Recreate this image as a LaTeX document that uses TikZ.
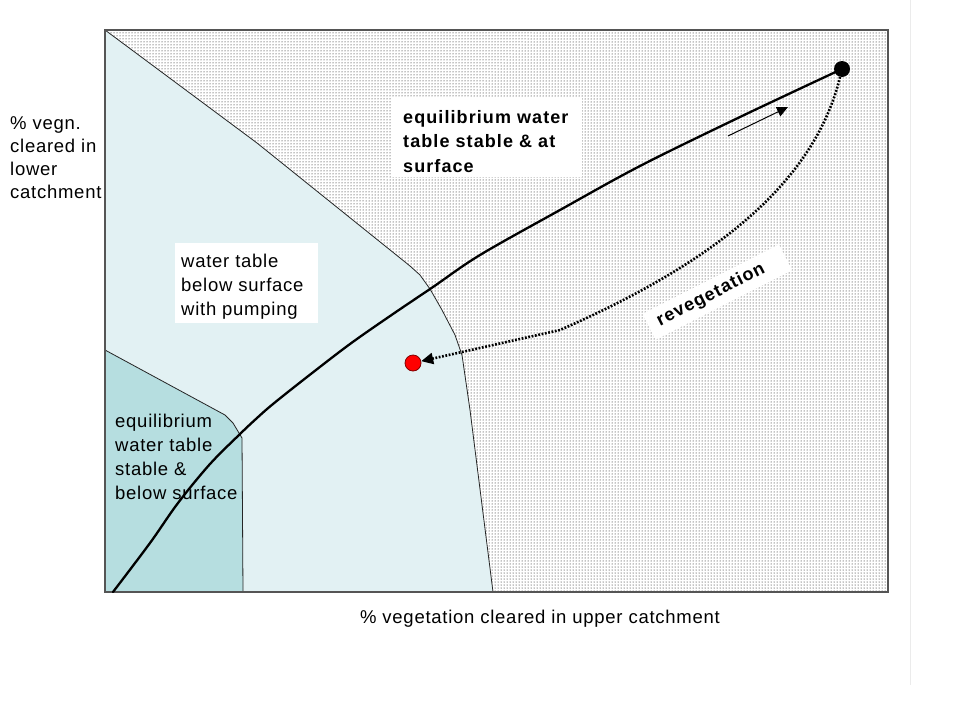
\documentclass[tikz,border=0pt]{standalone}
\usepackage{fontspec}
\setmainfont{Liberation Sans}
\newfontfamily\labfont[LetterSpace=4]{Liberation Sans}
\newfontfamily\boldlabfont[LetterSpace=6]{Liberation Sans}
\usetikzlibrary{arrows.meta,patterns}
\definecolor{tealfill}{RGB}{182,222,224}
\definecolor{palefill}{RGB}{226,241,243}
\definecolor{framecol}{RGB}{85,85,85}
\tikzset{
  lab/.style={font=\labfont\fontsize{18.5}{24}\selectfont, align=left, inner sep=0pt, text=black},
  boldlab/.style={font=\boldlabfont\bfseries\fontsize{18}{24.5}\selectfont, align=left, inner sep=0pt, text=black},
  boundary/.style={draw=black!85, line width=0.8pt, line join=round},
  mainline/.style={line width=2.3pt, black, line cap=round, line join=round},
  revegline/.style={line width=2.6pt, black, dash pattern=on 1.8pt off 1.6pt, -{Triangle[length=12pt,width=11pt]}},
  smallarrow/.style={line width=1pt, black, -{Triangle[length=11pt,width=10pt]}},
  dotmark/.style={circle, inner sep=0pt, minimum size=#1}
}
\begin{document}
\begin{tikzpicture}[x=1pt,y=-1pt]
\useasboundingbox (0,0) rectangle (960,720);
\fill[white] (0,0) rectangle (960,720);
% faint page edge
\draw[black!8, line width=1pt] (910,0) -- (910,685);
% dotted background region
\fill[pattern=dots] (105,30) rectangle (888,592);
% pale region (water table below surface with pumping)
\fill[palefill] (105,30) -- (257,143) -- (410,266) -- (420,275) -- (430,289) -- (442,310) -- (455,335) -- (462,355) -- (470,410) -- (493,592) -- (105,592) -- cycle;
\draw[boundary] (105,30) -- (257,143) -- (410,266) -- (420,275) -- (430,289) -- (442,310) -- (455,335) -- (462,355) -- (470,410) -- (493,592);
% teal region
\filldraw[fill=tealfill, boundary] (105,350) -- (225,415) -- (233,423) -- (242,438) -- (243,592) -- (105,592) -- cycle;
% frame
\draw[framecol, line width=1.5pt] (105,30) rectangle (888,592);
% markers
\node[dotmark=16pt, fill=black] (blackdot) at (842,69) {};
\node[dotmark=16pt, fill=red, draw=red!50!black, line width=0.8pt] (reddot) at (413,363) {};
% main curve
\coordinate (cbottom) at (113,592);
\draw[mainline] plot[smooth, tension=0.55] coordinates {(cbottom) (150,543) (178,503) (210,464) (240,434) (257,418) (273,404) (307,377) (350,344) (393,314) (433,287) (480,255) (560,210) (640,166) (740,117) (blackdot.center)};
% small direction arrow
\coordinate (sa1) at (728,136);
\coordinate (sa2) at (788,107);
\draw[smallarrow] (sa1) -- (sa2);
% revegetation path
\draw[revegline] (blackdot) .. controls (815,180) and (720,260) .. (560,330) -- (reddot);
% labels (base anchor = last line's baseline)
\fill[white] (392,98) rectangle (582,177);
\node[boldlab, anchor=base west] (eqsurf) at (403,172) {equilibrium water\\table stable \& at\\surface};
\fill[white] (175,243) rectangle (318,323);
\node[lab, anchor=base west] (pumping) at (181,315) {water table\\below surface\\with pumping};
\node[lab, anchor=base west] (eqbelow) at (115,499) {equilibrium\\water table\\stable \&\\below surface};
\node[lab, anchor=base west, font=\labfont\fontsize{18.5}{23}\selectfont] (lowerlab) at (10,198) {\% vegn.\\cleared in\\lower\\catchment};
\node[lab, anchor=base] (upperlab) at (540,623) {\% vegetation cleared in upper catchment};
\node[boldlab, fill=white, rotate=27, anchor=base west, inner xsep=10pt, inner ysep=6pt] (reveg) at (651,331) {revegetation\hspace{14pt}};
\end{tikzpicture}
\end{document}
